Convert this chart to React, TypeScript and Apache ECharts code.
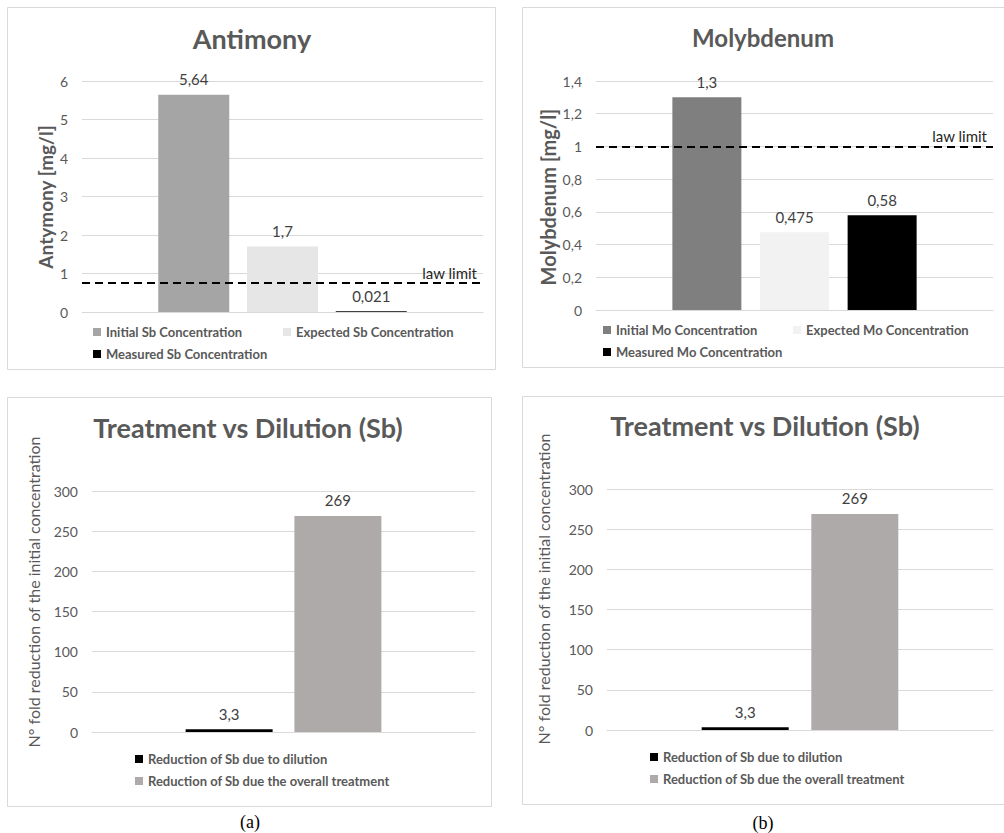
import React, { useEffect, useRef } from "react";
import * as echarts from "echarts";

// ---- data ----
const sbNames = ["Initial Sb Concentration", "Expected Sb Concentration", "Measured Sb Concentration"];
const sbValues = [5.64, 1.7, 0.021];
const sbColors = ["#A5A5A5", "#E6E6E6", "#000000"];
const sbLawLimit = 0.75;

const moNames = ["Initial Mo Concentration", "Expected Mo Concentration", "Measured Mo Concentration"];
const moValues = [1.3, 0.475, 0.58];
const moColors = ["#7F7F7F", "#F2F2F2", "#000000"];
const moLawLimit = 1;

const redNames = ["Reduction of Sb due to dilution", "Reduction of Sb due the overall treatment"];
const redValues = [3.3, 269];
const redColors = ["#000000", "#AEAAAA"];

const titles = ["Antimony", "Molybdenum", "Treatment vs Dilution (Sb)", "Treatment vs Dilution (Sb)"];
const yNames = ["Antymony [mg/l]", "Molybdenum [mg/l]", "N° fold reduction of the initial concentration", "N° fold reduction of the initial concentration"];
const captions = ["(a)", "(b)"];

const FONT = "Lato";
const comma = (v: number) => String(v).replace(".", ",");

export default function App() {
  const ref = useRef<HTMLDivElement>(null);
  useEffect(() => {
    if (!ref.current) return;
    const chart = echarts.init(ref.current, undefined, { renderer: "svg" });

    const grids = [
      { left: 82, top: 81, width: 401, height: 231 },
      { left: 596, top: 81, width: 397, height: 229 },
      { left: 92, top: 491, width: 383, height: 241 },
      { left: 607, top: 489, width: 386, height: 241 },
    ];
    const yRanges = [
      { min: 0, max: 6, interval: 1 },
      { min: 0, max: 1.4, interval: 0.2 },
      { min: 0, max: 300, interval: 50 },
      { min: 0, max: 300, interval: 50 },
    ];

    const xAxis = grids.map((_, i) => ({
      type: "category",
      gridIndex: i,
      data: [""],
      axisTick: { show: false },
      axisLabel: { show: false },
      axisLine: { show: true, lineStyle: { color: "#D9D9D9", width: 1 } },
    }));
    const yAxis = grids.map((_, i) => ({
      type: "value",
      gridIndex: i,
      ...yRanges[i],
      axisLine: { show: false },
      axisTick: { show: false },
      splitLine: { lineStyle: { color: "#D9D9D9", width: 1 } },
      axisLabel: {
        margin: 14,
        color: "#595959",
        fontSize: 14,
        fontFamily: FONT,
        formatter: (v: number) => comma(Math.round(v * 10) / 10),
      },
    }));

    const lawLine = (value: number) => ({
      symbol: "none",
      silent: true,
      data: [{ yAxis: value }],
      lineStyle: { type: [8, 5], color: "#000000", width: 2 },
      label: {
        show: true,
        position: "insideEndTop",
        formatter: "law limit",
        color: "#262626",
        fontSize: 15,
        fontFamily: FONT,
        distance: [6, 3],
      },
    });

    const bars = (
      names: string[],
      values: number[],
      colors: string[],
      gi: number,
      barWidth: number,
      barGap: string,
      law?: number
    ) =>
      names.map((n, i) => ({
        type: "bar",
        name: n,
        xAxisIndex: gi,
        yAxisIndex: gi,
        data: [values[i]],
        barWidth,
        barGap,
        itemStyle: { color: colors[i] },
        label: {
          show: true,
          position: "top",
          distance: 8,
          fontSize: 15,
          color: "#404040",
          fontFamily: FONT,
          formatter: (p: any) => comma(p.value),
        },
        markLine: i === 0 && law !== undefined ? lawLine(law) : undefined,
      }));

    const series = [
      ...bars(sbNames, sbValues, sbColors, 0, 71, "25%", sbLawLimit),
      ...bars(moNames, moValues, moColors, 1, 69, "27%", moLawLimit),
      ...bars(redNames, redValues, redColors, 2, 87, "25%"),
      ...bars(redNames, redValues, redColors, 3, 87, "26%"),
    ];

    const legendItem = (name: string, left: number, cy: number) => ({
      data: [name],
      left,
      top: cy - 8,
      padding: 0,
      itemWidth: 8,
      itemHeight: 8,
      icon: "rect",
      selectedMode: false,
      textStyle: { color: "#595959", fontSize: 13, fontWeight: "bold", fontFamily: FONT, lineHeight: 16 },
    });
    const legend = [
      legendItem(sbNames[0], 93, 332),
      legendItem(sbNames[1], 283, 332),
      legendItem(sbNames[2], 93, 354),
      legendItem(moNames[0], 603, 330),
      legendItem(moNames[1], 793, 330),
      legendItem(moNames[2], 603, 352),
      legendItem(redNames[0], 135, 759),
      legendItem(redNames[1], 135, 781),
      legendItem(redNames[0], 650, 757),
      legendItem(redNames[1], 650, 779),
    ];

    const borders = [
      { x: 7.5, y: 7.5, width: 488, height: 362 },
      { x: 522.5, y: 7.5, width: 490, height: 360 },
      { x: 7.5, y: 397.5, width: 484, height: 409 },
      { x: 522.5, y: 396.5, width: 490, height: 408 },
    ];
    const titlePos = [
      [252, 38, 27],
      [763, 37, 24],
      [248, 427, 27],
      [765, 425, 27],
    ];
    const yNamePos = [
      [45, 197, 19, "bold"],
      [548, 197, 20, "bold"],
      [33, 592, 16, "normal"],
      [543, 589, 16, "normal"],
    ];
    const captionPos = [
      [250, 822],
      [763, 823],
    ];

    const graphic: any[] = [];
    borders.forEach((b) =>
      graphic.push({
        type: "rect",
        shape: b,
        silent: true,
        style: { fill: "none", stroke: "#D9D9D9", lineWidth: 1 },
        z: -10,
      })
    );
    titles.forEach((t, i) =>
      graphic.push({
        type: "text",
        x: titlePos[i][0],
        y: titlePos[i][1],
        style: {
          text: t,
          fill: "#595959",
          font: `bold ${titlePos[i][2]}px ${FONT}`,
          align: "center",
          verticalAlign: "middle",
        },
      })
    );
    yNames.forEach((t, i) =>
      graphic.push({
        type: "text",
        x: yNamePos[i][0],
        y: yNamePos[i][1],
        rotation: Math.PI / 2,
        style: {
          text: t,
          fill: "#595959",
          font: `${yNamePos[i][3]} ${yNamePos[i][2]}px ${FONT}`,
          align: "center",
          verticalAlign: "middle",
        },
      })
    );
    captions.forEach((t, i) =>
      graphic.push({
        type: "text",
        x: captionPos[i][0],
        y: captionPos[i][1],
        style: {
          text: t,
          fill: "#000000",
          font: `18px "Liberation Serif"`,
          align: "center",
          verticalAlign: "middle",
        },
      })
    );

    chart.setOption({
      animation: false,
      backgroundColor: "#ffffff",
      textStyle: { fontFamily: FONT },
      grid: grids,
      xAxis,
      yAxis,
      legend,
      series,
      graphic,
    } as any);

    return () => chart.dispose();
  }, []);

  return (
    <div
      ref={ref}
      style={{ position: "absolute", left: 0, top: 0, width: 1004, height: 833, background: "#fff" }}
    />
  );
}
